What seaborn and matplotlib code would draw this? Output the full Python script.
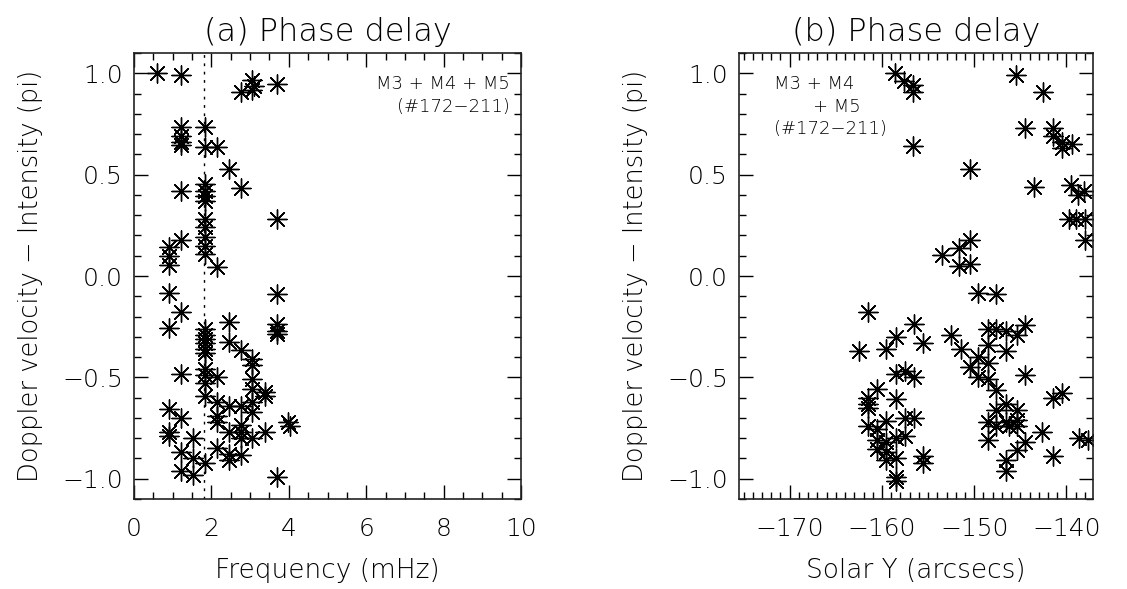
import pandas as pd
import seaborn as sns
import matplotlib.pyplot as plt
from matplotlib.ticker import MultipleLocator

# panel (a): frequency (mHz) vs phase delay (pi)
freq = [0.60, 1.21, 2.77, 3.06, 3.06, 3.10, 3.69,
        1.21, 1.21, 1.21, 1.21, 1.83, 1.83, 2.14, 2.45,
        1.21, 1.83, 1.83, 1.83, 1.83, 2.76, 3.69,
        1.83, 1.83, 1.83, 1.83, 1.83, 1.21, 0.91, 0.91, 0.91, 2.14,
        0.91, 3.69, 1.21, 0.91, 1.83, 1.83, 1.83, 1.83, 1.83, 1.83,
        2.45, 2.45, 2.76, 3.69, 3.69, 3.69,
        1.21, 1.83, 1.83, 1.83, 1.83, 2.14,
        3.06, 3.06, 3.06, 3.06, 3.06, 3.06, 3.38, 3.38,
        2.14, 2.45, 2.76, 2.14, 2.14, 0.91, 1.21, 0.91, 0.91,
        3.99, 4.02, 2.76, 2.76, 2.45, 3.06, 3.38, 1.53,
        2.14, 2.45, 2.45, 2.76, 2.76, 1.21, 1.53, 1.83, 1.21, 1.53, 3.69]
phase_a = [1.00, 0.99, 0.91, 0.965, 0.92, 0.935, 0.946,
           0.735, 0.69, 0.663, 0.647, 0.735, 0.634, 0.637, 0.53,
           0.42, 0.453, 0.42, 0.395, 0.37, 0.433, 0.28,
           0.28, 0.24, 0.19, 0.15, 0.11, 0.18, 0.145, 0.10, 0.056, 0.043,
           -0.084, -0.089, -0.18, -0.258, -0.26, -0.29, -0.31, -0.33, -0.36, -0.38,
           -0.228, -0.327, -0.363, -0.236, -0.27, -0.286,
           -0.483, -0.458, -0.49, -0.53, -0.59, -0.50,
           -0.41, -0.44, -0.51, -0.557, -0.62, -0.67, -0.59, -0.57,
           -0.62, -0.64, -0.64, -0.69, -0.72, -0.655, -0.70, -0.77, -0.79,
           -0.72, -0.74, -0.737, -0.77, -0.77, -0.80, -0.77, -0.80,
           -0.85, -0.877, -0.91, -0.885, -0.80, -0.87, -0.90, -0.92, -0.96, -0.98, -0.99]

# panel (b): solar Y (arcsecs) vs phase delay (pi)
solar_y = [-158.6, -157.6, -156.6, -156.6, -156.6,
           -145.5, -142.5, -144.5, -141.5, -141.5, -140.5, -140.5, -139.4,
           -150.5, -143.5, -139.5, -138.8, -138.1, -139.7, -139.0, -138.0, -138.0,
           -150.5, -151.6, -153.5, -151.6, -150.5,
           -149.6, -147.6,
           -161.5, -156.5, -158.5, -155.5, -162.5, -159.6,
           -158.5, -157.5, -156.5, -160.5, -161.5, -161.5, -161.5, -158.5,
           -161.5, -160.5, -159.6, -157.5, -156.5,
           -160.5, -159.6, -158.5, -157.5, -160.5, -159.6, -159.6, -158.5,
           -158.5, -158.5, -155.5, -155.5,
           -152.5, -151.4, -148.5, -147.6, -146.5, -145.4, -144.5,
           -148.5, -146.5, -149.6, -150.5, -148.5, -149.6, -148.5, -147.6,
           -144.5, -141.5, -140.5, -146.5, -147.6, -145.4,
           -148.5, -147.6, -146.5, -145.4, -145.4, -146.2,
           -148.5, -144.5, -142.6, -138.6, -137.7,
           -145.4, -146.5, -146.5, -141.5]
phase_b = [1.00, 0.96, 0.94, 0.91, 0.64,
           0.99, 0.91, 0.73, 0.73, 0.69, 0.66, 0.63, 0.65,
           0.53, 0.44, 0.45, 0.40, 0.42, 0.28, 0.28, 0.28, 0.18,
           0.18, 0.14, 0.105, 0.05, 0.06,
           -0.086, -0.09,
           -0.18, -0.235, -0.30, -0.33, -0.37, -0.36,
           -0.485, -0.47, -0.50, -0.556, -0.60, -0.63, -0.65, -0.605,
           -0.74, -0.756, -0.715, -0.70, -0.70,
           -0.81, -0.82, -0.80, -0.79, -0.855, -0.87, -0.91, -0.90,
           -0.99, -1.01, -0.89, -0.92,
           -0.29, -0.36, -0.26, -0.26, -0.27, -0.29, -0.24,
           -0.34, -0.37, -0.40, -0.45, -0.43, -0.50, -0.51, -0.56,
           -0.49, -0.60, -0.575, -0.63, -0.66, -0.66,
           -0.72, -0.74, -0.72, -0.71, -0.74, -0.74,
           -0.81, -0.82, -0.77, -0.80, -0.81,
           -0.86, -0.91, -0.96, -0.89]

df_a = pd.DataFrame({'freq': freq, 'phase': phase_a})
df_b = pd.DataFrame({'solar_y': solar_y, 'phase': phase_b})

sns.set_style('ticks')
plt.rcParams['font.family'] = ['DejaVu Sans']
plt.rcParams['font.weight'] = 'light'
plt.rcParams['axes.titleweight'] = 'light'
plt.rcParams['axes.labelweight'] = 'light'
plt.rcParams['text.color'] = 'black'
plt.rcParams['axes.labelcolor'] = 'black'
plt.rcParams['xtick.color'] = 'black'
plt.rcParams['ytick.color'] = 'black'

fig = plt.figure(figsize=(11.27, 5.89), dpi=100)
ax1 = fig.add_axes([0.1189, 0.1528, 0.3434, 0.7572])
ax2 = fig.add_axes([0.6557, 0.1528, 0.3143, 0.7572])

star = (8, 2, 0)  # IDL-like asterisk
sns.scatterplot(data=df_a, x='freq', y='phase', marker=star, s=190, color='black',
                linewidth=1.0, ax=ax1, legend=False)
sns.scatterplot(data=df_b, x='solar_y', y='phase', marker=star, s=190, color='black',
                linewidth=1.0, ax=ax2, legend=False)

ax1.axvline(1.8, color='black', ls=(0, (2, 4)), lw=1.0)

ax1.set_xlim(0, 10)
ax1.xaxis.set_major_locator(MultipleLocator(2))
ax1.xaxis.set_minor_locator(MultipleLocator(0.5))
ax2.set_xlim(-175.5, -137.1)
ax2.xaxis.set_major_locator(MultipleLocator(10))
ax2.xaxis.set_minor_locator(MultipleLocator(1))

for ax, title, xlabel in [(ax1, '(a) Phase delay', 'Frequency (mHz)'),
                          (ax2, '(b) Phase delay', 'Solar Y (arcsecs)')]:
    ax.set_ylim(-1.1, 1.1)
    ax.yaxis.set_major_locator(MultipleLocator(0.5))
    ax.yaxis.set_minor_locator(MultipleLocator(0.1))
    ax.yaxis.set_major_formatter(plt.FuncFormatter(lambda v, p: f'{v:.1f}'.replace('-', '\u2212')))
    ax.xaxis.set_major_formatter(plt.FuncFormatter(lambda v, p: f'{v:g}'.replace('-', '\u2212')))
    ax.tick_params(which='both', direction='in', top=True, right=True, labelsize=18, width=1)
    ax.tick_params(axis='x', pad=13)
    ax.tick_params(axis='y', pad=8)
    ax.tick_params(which='major', length=10)
    ax.tick_params(which='minor', length=5)
    for sp in ax.spines.values():
        sp.set_linewidth(1.2)
        sp.set_color('#222222')
    ax.set_title(title, fontsize=23, pad=9)
    ax.set_xlabel(xlabel, fontsize=19, labelpad=12)
    ax.set_ylabel('Doppler velocity \u2212 Intensity (pi)', fontsize=18.5, labelpad=14)

ax1.text(0.97, 0.93, 'M3 + M4 + M5', transform=ax1.transAxes, ha='right', va='center', fontsize=13)
ax1.text(0.97, 0.88, '(#172\u2212211)', transform=ax1.transAxes, ha='right', va='center', fontsize=13)
ax2.text(0.10, 0.93, 'M3 + M4', transform=ax2.transAxes, ha='left', va='center', fontsize=13)
ax2.text(0.21, 0.88, '+ M5', transform=ax2.transAxes, ha='left', va='center', fontsize=13)
ax2.text(0.10, 0.83, '(#172\u2212211)', transform=ax2.transAxes, ha='left', va='center', fontsize=13)

plt.savefig('out.png', dpi=100)
